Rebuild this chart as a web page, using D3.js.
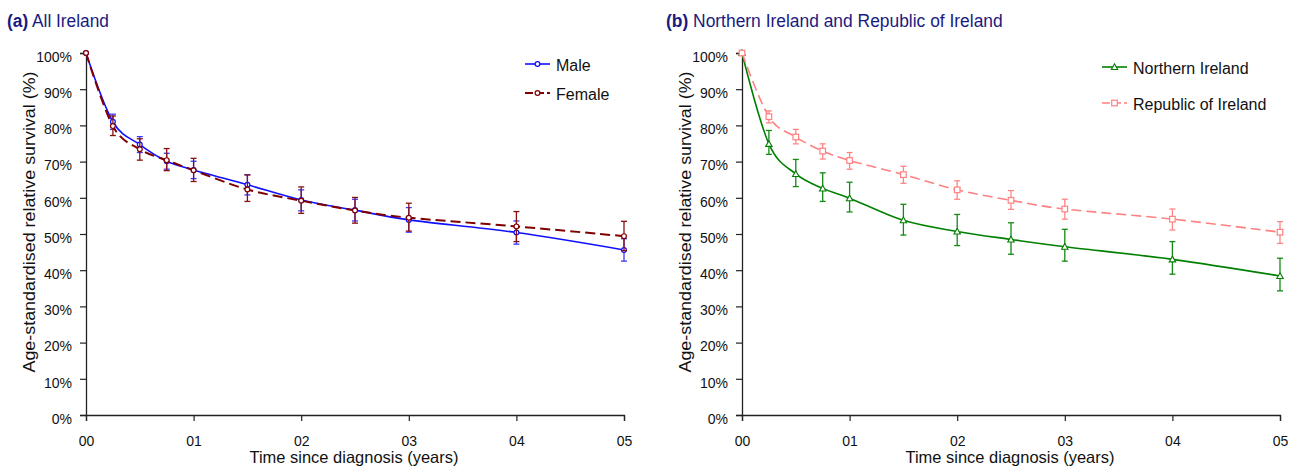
<!DOCTYPE html>
<html>
<head>
<meta charset="utf-8">
<script src="https://cdn.jsdelivr.net/npm/d3@7"></script>
<style>
  html, body { margin: 0; padding: 0; background: #fff; }
  svg { display: block; font-family: "Liberation Sans", Arial, sans-serif; }
</style>
</head>
<body>
<svg id="chart" width="1294" height="470"></svg>
<script>
// Years since diagnosis at which survival was estimated
const years = [0, 0.25, 0.5, 0.75, 1, 1.5, 2, 2.5, 3, 4, 5];
const xTickValues = [0, 1, 2, 3, 4, 5];
const xTickLabels = ["00", "01", "02", "03", "04", "05"];
const yTickValues = [0, 10, 20, 30, 40, 50, 60, 70, 80, 90, 100];

// (a) All Ireland, by sex (%)
const maleSurvival = [100, 81.0, 74.7, 70.1, 67.7, 63.6, 59.4, 56.6, 53.9, 50.4, 45.6];
const maleLower    = [100, 78.9, 72.5, 67.9, 65.3, 60.8, 56.4, 53.6, 50.5, 47.2, 42.5];
const maleUpper    = [100, 83.1, 76.9, 72.3, 70.1, 66.4, 62.2, 59.6, 57.3, 53.6, 48.7];

const femaleSurvival = [100, 79.8, 73.4, 70.4, 67.6, 62.3, 59.2, 56.5, 54.5, 52.1, 49.4];
const femaleLower    = [100, 77.2, 70.4, 67.5, 64.5, 59.0, 55.7, 53.0, 50.8, 47.9, 45.4];
const femaleUpper    = [100, 82.6, 76.3, 73.6, 70.9, 66.3, 63.0, 60.1, 58.5, 56.2, 53.5];

// (b) Northern Ireland and Republic of Ireland (%)
const niSurvival = [100, 74.9, 66.6, 62.6, 59.9, 53.8, 50.7, 48.5, 46.5, 43.0, 38.4];
const niLower    = [100, 72.0, 63.1, 59.0, 56.1, 49.7, 46.8, 44.4, 42.5, 38.9, 34.3];
const niUpper    = [100, 78.6, 70.6, 66.9, 64.3, 58.2, 55.4, 53.1, 51.3, 47.9, 43.3];

const roiSurvival = [100, 82.4, 76.8, 72.9, 70.3, 66.4, 62.2, 59.3, 56.9, 54.1, 50.5];
const roiLower    = [100, 80.7, 74.9, 70.7, 67.9, 64.0, 59.6, 56.8, 54.1, 51.1, 47.4];
const roiUpper    = [100, 84.0, 78.9, 74.9, 72.5, 68.7, 64.7, 62.0, 59.6, 56.9, 53.4];

const svg = d3.select("#chart");
const titleColor = "#1a1a80";
const axisColor = "#222";

function rows(vals, lo, hi) {
  return years.map((t, i) => ({ t, v: vals[i], lo: lo[i], hi: hi[i] }));
}

// horizontally condense a text group so it spans the given width
function fitWidth(sel, x, y, width) {
  const w = sel.node().getBBox().width;
  sel.attr("transform", `translate(${x},${y}) scale(${width / w},1)`);
}

function drawPanel(opts) {
  const x = d3.scaleLinear().domain([0, 5]).range([opts.left, opts.right]);
  const y = d3.scaleLinear().domain([0, 100]).range([415, 53]);
  const g = svg.append("g");

  // panel title
  const tg = g.append("g");
  const title = tg.append("text")
    .attr("x", 0).attr("y", 0)
    .attr("fill", titleColor).attr("font-size", 18.5);
  title.append("tspan").attr("font-weight", "bold").text(opts.tag);
  title.append("tspan").text(" " + opts.title);
  fitWidth(tg, opts.titleX, 26.5, opts.titleLen);

  // y axis
  const yAxis = g.append("g")
    .attr("transform", `translate(${opts.left},0)`)
    .call(d3.axisLeft(y).tickValues(yTickValues).tickSizeOuter(0).tickSize(6)
      .tickFormat(d => d + "%"));
  yAxis.select(".domain").attr("stroke", axisColor).attr("stroke-width", 1.3);
  yAxis.selectAll(".tick line").attr("stroke", axisColor).attr("stroke-width", 1.2);
  yAxis.selectAll(".tick text")
    .attr("x", -14).attr("dy", "0.95em").attr("y", -5)
    .attr("font-size", 14).attr("fill", "#111")
    .attr("font-family", "'Liberation Sans', Arial, sans-serif");

  // x axis
  const xAxis = g.append("g")
    .attr("transform", "translate(0,415)")
    .call(d3.axisBottom(x).tickValues(xTickValues).tickSizeOuter(0).tickSize(6)
      .tickFormat((d, i) => xTickLabels[i]));
  xAxis.select(".domain").attr("stroke", axisColor).attr("stroke-width", 1.3);
  xAxis.selectAll(".tick line").attr("stroke", axisColor).attr("stroke-width", 1.2);
  xAxis.selectAll(".tick text")
    .attr("y", 21).attr("dy", "0.71em")
    .attr("font-size", 14).attr("fill", "#111")
    .attr("font-family", "'Liberation Sans', Arial, sans-serif");

  // axis titles
  g.append("text")
    .attr("x", (opts.left + opts.right) / 2 - 1).attr("y", 463)
    .attr("text-anchor", "middle").attr("font-size", 16.5).attr("fill", "#111")
    .attr("textLength", 209).attr("lengthAdjust", "spacingAndGlyphs")
    .text("Time since diagnosis (years)");
  g.append("text")
    .attr("transform", `translate(${opts.left - 51},222) rotate(-90)`)
    .attr("text-anchor", "middle").attr("font-size", 16.5).attr("fill", "#111")
    .attr("textLength", 301).attr("lengthAdjust", "spacingAndGlyphs")
    .text("Age-standardised relative survival (%)");

  const line = d3.line()
    .x(d => x(d.t)).y(d => y(d.v))
    .curve(d3.curveCardinal.tension(0));

  opts.series.forEach(s => {
    const data = rows(s.vals, s.lo, s.hi);
    const sg = g.append("g");

    // confidence interval bars
    const eb = sg.append("g").attr("stroke", s.barColor).attr("stroke-width", 1.3).attr("fill", "none");
    data.forEach(d => {
      eb.append("line").attr("x1", x(d.t)).attr("x2", x(d.t)).attr("y1", y(d.hi)).attr("y2", y(d.lo));
      eb.append("line").attr("x1", x(d.t) - 3).attr("x2", x(d.t) + 3).attr("y1", y(d.hi)).attr("y2", y(d.hi));
      eb.append("line").attr("x1", x(d.t) - 3).attr("x2", x(d.t) + 3).attr("y1", y(d.lo)).attr("y2", y(d.lo));
    });

    sg.append("path").datum(data)
      .attr("d", line).attr("fill", "none")
      .attr("stroke", s.color).attr("stroke-width", s.width)
      .attr("stroke-dasharray", s.dash || null);

    data.forEach(d => drawMarker(sg, s.marker, x(d.t), y(d.v), s.color));
  });

  // legend
  opts.series.forEach((s, i) => {
    const ly = opts.legendY[i];
    const lg = g.append("g");
    lg.append("line")
      .attr("x1", opts.legendX).attr("x2", opts.legendX + 25)
      .attr("y1", ly).attr("y2", ly)
      .attr("stroke", s.color).attr("stroke-width", s.width)
      .attr("stroke-dasharray", s.dash ? "8,3" : null);
    drawMarker(lg, s.marker, opts.legendX + 12.5, ly, s.color);
    lg.append("text")
      .attr("x", opts.legendX + 31).attr("y", ly + 6.5)
      .attr("font-size", 16).attr("fill", "#111")
      .text(s.name);
  });
}

function drawMarker(g, type, cx, cy, color) {
  if (type === "circle") {
    g.append("circle").attr("cx", cx).attr("cy", cy).attr("r", 2.4)
      .attr("fill", "#fff").attr("stroke", color).attr("stroke-width", 1.2);
  } else if (type === "triangle") {
    const s = 3.2;
    g.append("path")
      .attr("d", `M${cx},${cy - s}L${cx + s},${cy + s * 0.8}L${cx - s},${cy + s * 0.8}Z`)
      .attr("fill", "#fff").attr("stroke", color).attr("stroke-width", 1.1);
  } else if (type === "square") {
    const s = 2.8;
    g.append("rect").attr("x", cx - s).attr("y", cy - s).attr("width", 2 * s).attr("height", 2 * s)
      .attr("fill", "#fff").attr("stroke", color).attr("stroke-width", 1.2);
  }
}

drawPanel({
  left: 86, right: 624,
  titleX: 7, tag: "(a)", title: "All Ireland", titleLen: 102,
  legendX: 525, legendY: [64, 93],
  series: [
    { name: "Male", vals: maleSurvival, lo: maleLower, hi: maleUpper,
      color: "#1010ff", barColor: "#3a3aff", width: 1.6, marker: "circle" },
    { name: "Female", vals: femaleSurvival, lo: femaleLower, hi: femaleUpper,
      color: "#800000", barColor: "#8a1010", width: 2, dash: "10,5", marker: "circle" }
  ]
});

drawPanel({
  left: 742, right: 1280,
  titleX: 666, tag: "(b)", title: "Northern Ireland and Republic of Ireland", titleLen: 337,
  legendX: 1102, legendY: [67, 103],
  series: [
    { name: "Northern Ireland", vals: niSurvival, lo: niLower, hi: niUpper,
      color: "#008000", barColor: "#138a13", width: 1.6, marker: "triangle" },
    { name: "Republic of Ireland", vals: roiSurvival, lo: roiLower, hi: roiUpper,
      color: "#ff8080", barColor: "#ff8585", width: 1.6, dash: "10,5", marker: "square" }
  ]
});
</script>
</body>
</html>
